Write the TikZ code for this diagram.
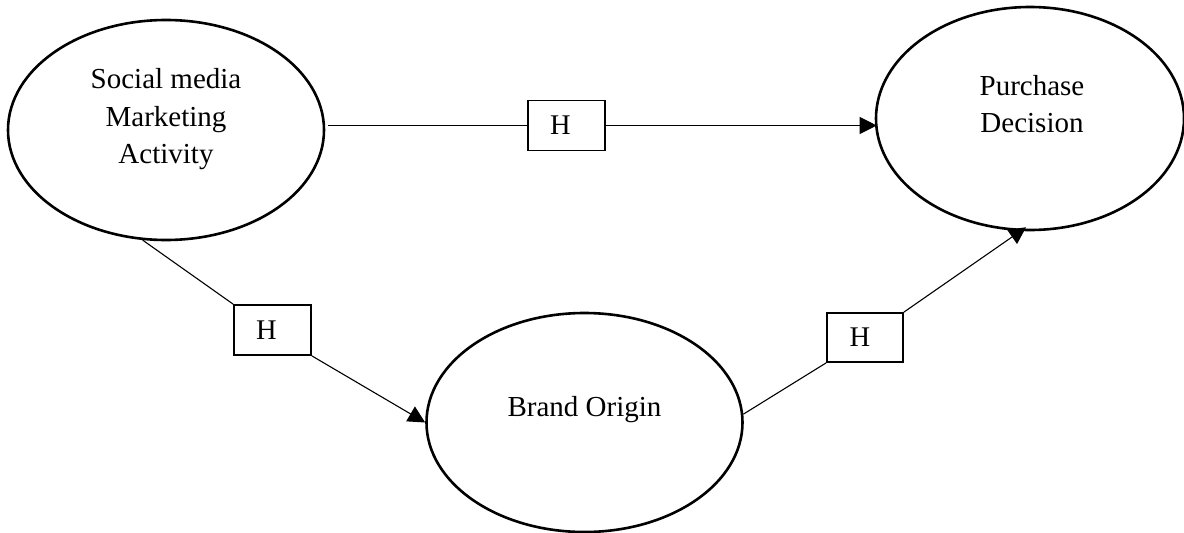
\documentclass[tikz,border=0pt]{standalone}
\usepackage{fontspec}
\setmainfont{Liberation Serif}
\usetikzlibrary{shapes.geometric,arrows.meta}
\begin{document}
\begin{tikzpicture}[x=1pt,y=-1pt,
  construct/.style={ellipse,draw,line width=2.6pt,inner sep=0pt},
  ctext/.style={font=\fontsize{29}{37.5}\selectfont,align=center},
  hbox/.style={draw,line width=1.8pt,minimum width=77pt,minimum height=50pt,inner sep=0pt,
     font=\fontsize{28.5}{34}\selectfont},
  link/.style={line width=1.1pt},
  arrowlink/.style={line width=1.1pt,-{Triangle[length=17pt,width=17pt]}}]
\useasboundingbox (0,0) rectangle (1184,533);
\node[construct,minimum width=316pt,minimum height=220pt,
  label={[ctext,yshift=10.5pt]center:Social media\\Marketing\\Activity}] (smma) at (166,130) {};
\node[construct,minimum width=308pt,minimum height=223pt,
  label={[ctext,yshift=14.5pt,xshift=2pt]center:Purchase\\Decision}] (pd) at (1030,118.5) {};
\node[construct,minimum width=316pt,minimum height=219pt,
  label={[ctext,yshift=12.5pt]center:Brand Origin}] (bo) at (584.5,422.5) {};
\node[hbox] (h1) at (566.5,125.5) {\hspace*{-12pt}H};
\node[hbox] (h2) at (272.5,330) {\hspace*{-12pt}H};
\node[hbox,minimum width=76pt,minimum height=49pt] (h3) at (865,337.5) {\hspace*{-10pt}H};
\draw[link] (h1.west) -- ([xshift=3pt]h1.west -| smma.east);
\draw[arrowlink] (h1.east) -- ([xshift=2pt]h1.east -| pd.west);
\draw[link] (smma.258) -- (h2.north west);
\draw[arrowlink] (h2.south east) -- (bo.west);
\draw[link] (bo.3) -- (h3.south west);
\draw[arrowlink] (h3.north east) -- ([yshift=4pt]pd.268);
\end{tikzpicture}
\end{document}
